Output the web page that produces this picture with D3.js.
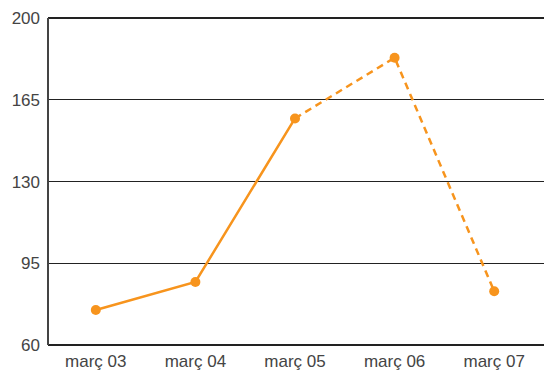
<!DOCTYPE html>
<html><head><meta charset="utf-8">
<script src="https://cdn.jsdelivr.net/npm/d3@7"></script>
<style>body{margin:0;background:#fff}svg{display:block}</style>
</head><body>
<script>
const categories = ["març 03","març 04","març 05","març 06","març 07"];
const values = [75, 87, 157, 183, 83];
const yTicks = [60, 95, 130, 165, 200];
const dashedFrom = 2; // index from which the line is dashed

const W = 544, H = 371;
const m = {left: 48, right: 0, top: 18, bottom: 26};
const svg = d3.select("body").append("svg").attr("width", W).attr("height", H);
const x = d3.scalePoint().domain(categories).range([m.left - 2, W - m.right]).padding(0.5);
const y = d3.scaleLinear().domain([60, 200]).range([H - m.bottom, m.top]);

const font = "'Liberation Sans', Arial, sans-serif";
// gridlines
svg.append("g").selectAll("line").data(yTicks).join("line")
  .attr("x1", m.left).attr("x2", W).attr("y1", d => y(d)).attr("y2", d => y(d))
  .attr("stroke", "#222").attr("stroke-width", 1.2).attr("shape-rendering","crispEdges");
// left axis line
svg.append("line").attr("x1", m.left).attr("x2", m.left).attr("y1", y(200)).attr("y2", y(60))
  .attr("stroke", "#444").attr("stroke-width", 1.2).attr("shape-rendering","crispEdges");
// y labels
svg.append("g").selectAll("text").data(yTicks).join("text")
  .attr("x", 40).attr("y", d => y(d)).attr("dy", "0.36em").attr("text-anchor", "end")
  .attr("font-family", font).attr("font-size", 17).attr("fill", "#444").text(d => d);
// x labels
svg.append("g").selectAll("text").data(categories).join("text")
  .attr("x", d => x(d)).attr("y", H - 4).attr("text-anchor", "middle")
  .attr("font-family", font).attr("font-size", 17).attr("fill", "#444").text(d => d);

const pts = categories.map((c, i) => ({c, v: values[i], i}));
const line = d3.line().x(d => x(d.c)).y(d => y(d.v));
const color = "#F7941D";
svg.append("path").datum(pts.slice(0, dashedFrom + 1)).attr("d", line)
  .attr("fill", "none").attr("stroke", color).attr("stroke-width", 2.5);
svg.append("path").datum(pts.slice(dashedFrom)).attr("d", line)
  .attr("fill", "none").attr("stroke", color).attr("stroke-width", 2.5).attr("stroke-dasharray", "7,5");
svg.append("g").selectAll("circle").data(pts).join("circle")
  .attr("cx", d => x(d.c)).attr("cy", d => y(d.v)).attr("r", 5).attr("fill", color);
</script>
</body></html>
